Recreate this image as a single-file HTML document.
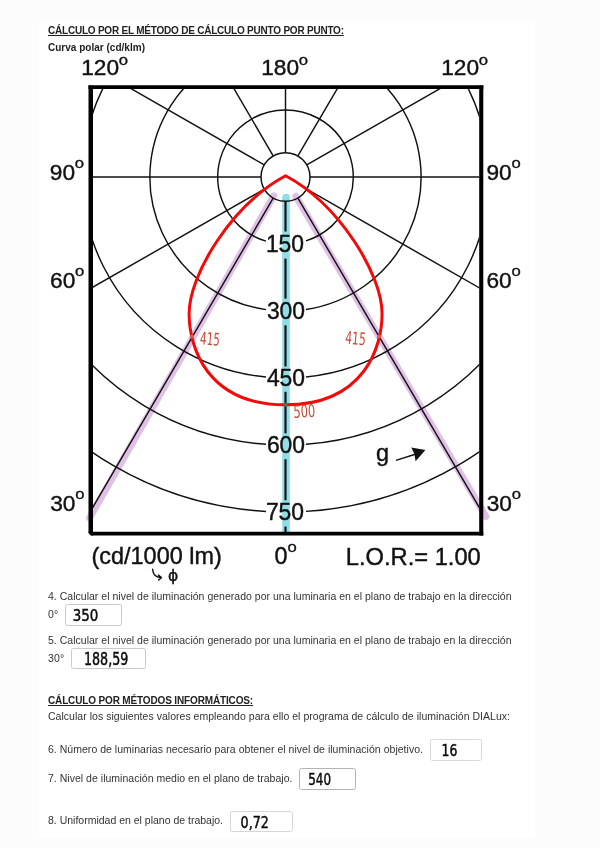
<!DOCTYPE html>
<html lang="es">
<head>
<meta charset="utf-8">
<title>Cálculo por el método punto por punto</title>
<style>
html,body{margin:0;padding:0;}
body{width:600px;height:848px;background:#fcfcfc;overflow:hidden;position:relative;font-family:"Liberation Sans",Arial,sans-serif;}
.page{position:absolute;left:39px;top:20px;width:496px;height:818px;background:#fff;}
.t{position:absolute;white-space:nowrap;font-size:10px;line-height:12px;color:#333;}
.inp{position:absolute;box-sizing:content-box;border:1px solid #c4c4c4;border-radius:2.5px;background:#fff;}
svg.diag,svg.hand{position:absolute;left:0;top:0;will-change:transform;}
.t{will-change:transform;}
</style>
</head>
<body>
<div class="page"></div>
<svg class="diag" width="600" height="848" viewBox="0 0 600 848">
<g fill="none" stroke-linecap="round">
<path d="M273.8 195.8 L89.5 518" stroke="#dfc1e6" stroke-width="7"/>
<path d="M295.8 196.3 L485.9 516.5" stroke="#dfc1e6" stroke-width="7"/>
<path d="M286 197.5 L286 531" stroke="#8fdde7" stroke-width="7.6"/>
</g>
<clipPath id="fr"><rect x="92.9" y="89.0" width="386.4" height="442.7"/></clipPath>
<g clip-path="url(#fr)" fill="none" stroke="#111" stroke-width="1.45">
<ellipse cx="285.5" cy="177.0" rx="24.5" ry="24.3" stroke-width="1.5"/>
<path d="M306.00 240.86 A67.80 67.00 0 1 0 266.00 241.17"/>
<path d="M306.00 309.46 A135.60 134.00 0 1 0 266.00 309.61"/>
<path d="M306.00 376.98 A203.40 201.00 0 1 0 266.00 377.07"/>
<path d="M306.00 444.23 A271.20 268.00 0 1 0 266.00 444.31"/>
<path d="M306.00 511.39 A339.00 335.00 0 1 0 266.00 511.45"/>
<path d="M273.16 198.16 L32.93 610.01"/>
<path d="M297.89 198.13 L539.42 610.01"/>
<path d="M264.23 189.16 L-151.58 427.00"/>
<path d="M306.77 189.16 L722.58 427.00"/>
<path d="M261.00 177.00 L-219.20 177.00"/>
<path d="M310.00 177.00 L790.20 177.00"/>
<path d="M264.23 164.84 L-151.58 -73.00"/>
<path d="M306.77 164.84 L722.58 -73.00"/>
<path d="M273.16 155.84 L32.93 -256.01"/>
<path d="M297.89 155.87 L539.42 -256.01"/>
<path d="M285.50 152.50 L285.50 87.00"/>
</g>
<g stroke="#111" stroke-width="2.15">
<path d="M285.5 201.0 L285.5 231.5"/>
<path d="M285.5 258.6 L285.5 298.6"/>
<path d="M285.5 325.3 L285.5 366.5"/>
<path d="M285.5 391.8 L285.5 433.3"/>
<path d="M285.5 459.2 L285.5 500.2"/>
<path d="M285.5 526.6 L285.5 532.0"/>
</g>
<path d="M90.75 85.4 L90.75 535.5" fill="none" stroke="#000" stroke-width="4.5"/>
<path d="M481.25 85.4 L481.25 535.5" fill="none" stroke="#000" stroke-width="4.1"/>
<path d="M88.5 533.6 L483.3 533.6" fill="none" stroke="#000" stroke-width="3.9"/>
<path d="M88 532.6 L88 536 L91.2 536 Z" fill="#fff"/>
<path d="M88.5 87.1 L483.4 87.1" fill="none" stroke="#000" stroke-width="3.6"/>
<g font-family="'Liberation Sans', Arial, sans-serif" fill="#111" stroke="#111" stroke-width="0.4">
<text x="81.23" y="75.40" font-size="22.7">120</text>
<text x="118.89" y="64.50" font-size="14" stroke-width="0.3" textLength="9.3" lengthAdjust="spacingAndGlyphs">o</text>
<text x="261.23" y="75.40" font-size="22.7">180</text>
<text x="298.89" y="64.50" font-size="14" stroke-width="0.3" textLength="9.3" lengthAdjust="spacingAndGlyphs">o</text>
<text x="441.23" y="75.40" font-size="22.7">120</text>
<text x="478.89" y="64.50" font-size="14" stroke-width="0.3" textLength="9.3" lengthAdjust="spacingAndGlyphs">o</text>
<text x="49.79" y="180.00" font-size="22.7">90</text>
<text x="74.83" y="168.00" font-size="14" stroke-width="0.3" textLength="9.3" lengthAdjust="spacingAndGlyphs">o</text>
<text x="486.49" y="180.00" font-size="22.7">90</text>
<text x="511.53" y="168.00" font-size="14" stroke-width="0.3" textLength="9.3" lengthAdjust="spacingAndGlyphs">o</text>
<text x="50.09" y="287.60" font-size="22.7">60</text>
<text x="75.13" y="275.60" font-size="14" stroke-width="0.3" textLength="9.3" lengthAdjust="spacingAndGlyphs">o</text>
<text x="486.49" y="287.60" font-size="22.7">60</text>
<text x="511.53" y="275.60" font-size="14" stroke-width="0.3" textLength="9.3" lengthAdjust="spacingAndGlyphs">o</text>
<text x="50.16" y="511.20" font-size="22.7">30</text>
<text x="75.20" y="499.20" font-size="14" stroke-width="0.3" textLength="9.3" lengthAdjust="spacingAndGlyphs">o</text>
<text x="486.76" y="511.00" font-size="22.7">30</text>
<text x="511.80" y="499.00" font-size="14" stroke-width="0.3" textLength="9.3" lengthAdjust="spacingAndGlyphs">o</text>
<text x="274.62" y="564.40" font-size="23.4">0</text>
<text x="287.43" y="552.00" font-size="14" stroke-width="0.3" textLength="9.3" lengthAdjust="spacingAndGlyphs">o</text>
<text x="265.9" y="252.0" font-size="23.2" textLength="38.2" lengthAdjust="spacingAndGlyphs">150</text>
<text x="266.9" y="319.0" font-size="23.2" textLength="38.2" lengthAdjust="spacingAndGlyphs">300</text>
<text x="266.9" y="386.3" font-size="23.2" textLength="38.2" lengthAdjust="spacingAndGlyphs">450</text>
<text x="266.9" y="453.0" font-size="23.2" textLength="38.2" lengthAdjust="spacingAndGlyphs">600</text>
<text x="265.9" y="520.0" font-size="23.2" textLength="38.2" lengthAdjust="spacingAndGlyphs">750</text>
<text x="91.5" y="564.3" font-size="23.2" textLength="130.3" lengthAdjust="spacingAndGlyphs">(cd/1000 lm)</text>
<text x="345.8" y="564.8" font-size="23.2" textLength="135" lengthAdjust="spacingAndGlyphs">L.O.R.= 1.00</text>
<text x="376.1" y="460.8" font-size="23.5">g</text>
</g>
<path d="M396 460.4 L416 454" stroke="#111" stroke-width="1.5" fill="none"/>
<path d="M425.4 450 L411.3 447.4 L414.4 454 L415.6 461.2 Z" fill="#111"/>
<path d="M285.6 175.8 C231.54 204.84 189.12 274.69 189.12 313.82 C189.12 346.26 206.37 404.8 285.6 404.8 C364.83 404.8 382.08 346.26 382.08 313.82 C382.08 274.69 339.66 204.84 285.6 175.8 Z" fill="none" stroke="#f20a0a" stroke-width="3" stroke-linejoin="round" stroke-linecap="round"/>
<circle cx="192.0" cy="336.6" r="2.0" fill="#d2604f"/>
<circle cx="379.0" cy="336.5" r="2.0" fill="#d2604f"/>
<circle cx="285.7" cy="404.8" r="2.3" fill="#6b5c5c"/>
<g font-family="'DejaVu Sans', sans-serif" fill="#c64a36" font-size="17.5">
<text x="199.6" y="344.2" textLength="19.8" lengthAdjust="spacingAndGlyphs" transform="rotate(5 199.6 344.2)">415</text>
<text x="344.8" y="343.6" textLength="20.5" lengthAdjust="spacingAndGlyphs" transform="rotate(5 344.8 343.6)">415</text>
<text x="293.8" y="418" textLength="21.8" lengthAdjust="spacingAndGlyphs" transform="rotate(-3 293.8 417.6)">500</text>
</g>
<path d="M152.6 569.3 C153 574 154.5 577.3 160.8 577.6 M158.4 575 L161.4 577.6 L158.6 580" fill="none" stroke="#111" stroke-width="1.5" stroke-linecap="round" stroke-linejoin="round"/>
<text x="168" y="580.5" font-family="'DejaVu Sans', sans-serif" font-size="15.5" fill="#111" stroke="#111" stroke-width="0.45">ϕ</text>
</svg>
<div class="t" id="h1" style="left:48.0px;top:25.25px;letter-spacing:-0.2184px;color:#222;font-weight:700;text-decoration:underline;text-decoration-thickness:1px;text-underline-offset:0.7px;font-size:10.00px;">CÁLCULO POR EL MÉTODO DE CÁLCULO PUNTO POR PUNTO:</div>
<div class="t" id="cp" style="left:48.0px;top:41.85px;letter-spacing:0.0148px;color:#222;font-weight:700;font-size:10.00px;">Curva polar (cd/klm)</div>
<div class="t" id="q4" style="left:47.5px;top:589.95px;letter-spacing:0.0178px;color:#333;font-size:10.50px;">4. Calcular el nivel de iluminación generado por una luminaria en el plano de trabajo en la dirección</div>
<div class="t" id="q4b" style="left:47.5px;top:607.85px;letter-spacing:0.2266px;color:#333;font-size:10.50px;">0°</div>
<div class="t" id="q5" style="left:47.5px;top:633.65px;letter-spacing:0.0178px;color:#333;font-size:10.50px;">5. Calcular el nivel de iluminación generado por una luminaria en el plano de trabajo en la dirección</div>
<div class="t" id="q5b" style="left:47.5px;top:651.95px;letter-spacing:0.2031px;color:#333;font-size:10.50px;">30°</div>
<div class="t" id="h2" style="left:47.5px;top:695.25px;letter-spacing:-0.1458px;color:#222;font-weight:700;text-decoration:underline;text-decoration-thickness:1px;text-underline-offset:0.7px;font-size:10.00px;">CÁLCULO POR MÉTODOS INFORMÁTICOS:</div>
<div class="t" id="p2" style="left:47.5px;top:709.95px;letter-spacing:0.0274px;color:#333;font-size:10.50px;">Calcular los siguientes valores empleando para ello el programa de cálculo de iluminación DIALux:</div>
<div class="t" id="q6" style="left:47.5px;top:742.95px;letter-spacing:0.0254px;color:#333;font-size:10.50px;">6. Número de luminarias necesario para obtener el nivel de iluminación objetivo.</div>
<div class="t" id="q7" style="left:47.5px;top:772.45px;letter-spacing:0.0206px;color:#333;font-size:10.50px;">7. Nivel de iluminación medio en el plano de trabajo.</div>
<div class="t" id="q8" style="left:47.5px;top:814.45px;letter-spacing:-0.0033px;color:#333;font-size:10.50px;">8. Uniformidad en el plano de trabajo.</div>
<div class="inp" style="left:65.0px;top:604.0px;width:55.0px;height:19.5px;border-color:#cbcbcb"></div>
<div class="inp" style="left:71.0px;top:648.0px;width:72.5px;height:19.0px;border-color:#cbcbcb"></div>
<div class="inp" style="left:430.0px;top:739.0px;width:50.0px;height:20.0px;border-color:#d9d9d9"></div>
<div class="inp" style="left:299.0px;top:768.0px;width:55.0px;height:20.0px;border-color:#b4b4b4"></div>
<div class="inp" style="left:230.0px;top:811.0px;width:61.0px;height:19.0px;border-color:#d6d6d6"></div>
<svg class="hand" width="600" height="848" viewBox="0 0 600 848" font-family="'DejaVu Sans', sans-serif" fill="#0a0a0a" stroke="#0a0a0a" stroke-width="0.5">
<text x="72.7" y="621.0" font-size="16.5" textLength="25.6" lengthAdjust="spacingAndGlyphs">350</text>
<text x="84.0" y="664.6" font-size="17.5" textLength="44.3" lengthAdjust="spacingAndGlyphs">188,59</text>
<text x="441.6" y="755.6" font-size="15.0" textLength="15.8" lengthAdjust="spacingAndGlyphs">16</text>
<text x="308.2" y="785.1" font-size="16.5" textLength="22.8" lengthAdjust="spacingAndGlyphs">540</text>
<text x="240.6" y="828.0" font-size="16.0" textLength="28.3" lengthAdjust="spacingAndGlyphs">0,72</text>
</svg>
</body>
</html>
